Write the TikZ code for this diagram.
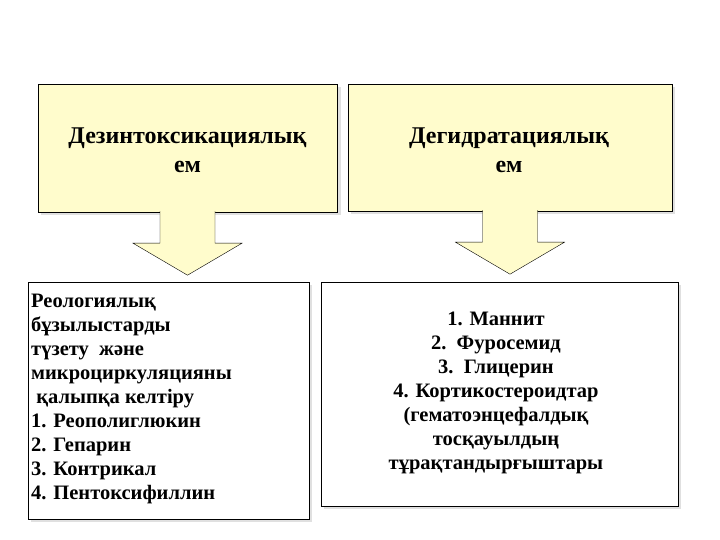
\documentclass[tikz,border=0pt]{standalone}
\usepackage{fontspec}
\setmainfont{Liberation Serif}
\usetikzlibrary{positioning, calc}
\tikzset{
    font=\bfseries,
    % Colors
    paleYellow/.style={draw=black, fill=yellow!20},
    % Shapes
    headBox/.style={rectangle, thin, paleYellow, align=center,
                    font=\fontsize{24}{29}\selectfont\bfseries},
    listBox/.style={rectangle, thin, draw=black, fill=white},
    listText/.style={inner sep=0pt, font=\fontsize{20.5}{24}\selectfont\bfseries},
    shade/.style={fill=black!12, draw=none},
    % Block arrows
    downArrow/.style={thin, draw=black, fill=yellow!20}
}
\begin{document}
\begin{tikzpicture}[x=1pt, y=1pt]
\useasboundingbox (0,0) rectangle (720,540);

% shadows
\fill[shade] (41,325) rectangle (341,453);
\fill[shade] (351,326) rectangle (675,453);
\fill[shade] (31,18) rectangle (312,255);
\fill[shade] (324,31) rectangle (681,255);

% top boxes
\node[headBox, minimum width=299, minimum height=128] (dez) at (187.5,392) {};
\node[headBox, minimum width=324, minimum height=127] (deg) at (510,392.5) {};
\node[headBox, draw=none, fill=none, anchor=base] (dezText) at (187.5,367) {Дезинтоксикациялық\\ем};
\node[headBox, draw=none, fill=none, anchor=base] (degText) at (509,367) {Дегидратациялық\\ем};

% bottom boxes
\node[listBox, minimum width=281, minimum height=237] (reo) at (168.5,139.5) {};
\node[listBox, minimum width=357, minimum height=224] (man) at (499.5,146) {};

\node[listText, align=left, anchor=base west] (reoText) at (31,40) {Реологиялық\\бұзылыстарды\\түзету\ \ және\\микроциркуляцияны\\\hspace{0.25em}қалыпқа келтіру\\1. Реополиглюкин\\2. Гепарин\\3. Контрикал\\4. Пентоксифиллин};
\node[listText, align=center, anchor=base] (manText) at (496,70) {1. Маннит\\2.\ \ Фуросемид\\3.\ \ Глицерин\\4. Кортикостероидтар\\(гематоэнцефалдық\\тосқауылдың\\тұрақтандырғыштары};

% arrows from the head boxes
\foreach \hb in {dez, deg}{
  \draw[downArrow] ($(\hb.south)+(-27.5,1)$) -- ++(0,-32) -- ++(-27,0)
     -- ($(\hb.south)+(0,-63)$) -- ($(\hb.south)+(54.5,-31)$)
     -- ++(-27,0) -- ($(\hb.south)+(27.5,1)$);
}

\end{tikzpicture}
\end{document}
